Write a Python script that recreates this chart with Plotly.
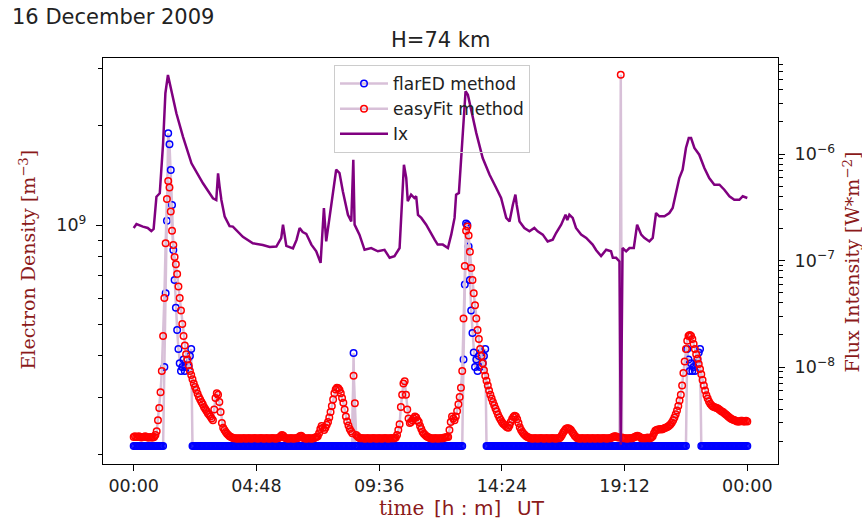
import plotly.graph_objects as go

# ---------------- data ----------------
# Electron density, sampled every 3 minutes from 00:00 to 24:00 (units of 1e8 m^-3)
SAMPLE_MIN = 3
flared_1e8 = [
    2.13, 2.13, 2.13, 2.13, 2.13, 2.13, 2.13, 2.13, 2.13, 2.13, 2.13, 2.13, 2.13, 2.13, 2.13, 2.13, 2.13, 2.13, 2.13, 2.13,
    2.13, 2.13, 2.13, 2.13, 3.7, 6.2, 10.3, 19.0, 17.6, 14.7, 11.5, 8.4, 6.8, 5.6, 4.8, 4.2, 3.8, 3.6, 3.7, 3.9,
    3.6, 3.7, 3.9, 3.7, 4.0, 4.2, 2.13, 2.13, 2.13, 2.13, 2.13, 2.13, 2.13, 2.13, 2.13, 2.13, 2.13, 2.13, 2.13, 2.13,
    2.13, 2.13, 2.13, 2.13, 2.13, 2.13, 2.13, 2.13, 2.13, 2.13, 2.13, 2.13, 2.13, 2.13, 2.13, 2.13, 2.13, 2.13, 2.13, 2.13,
    2.13, 2.13, 2.13, 2.13, 2.13, 2.13, 2.13, 2.13, 2.13, 2.13, 2.13, 2.13, 2.13, 2.13, 2.13, 2.13, 2.13, 2.13, 2.13, 2.13,
    2.13, 2.13, 2.13, 2.13, 2.13, 2.13, 2.13, 2.13, 2.13, 2.13, 2.13, 2.13, 2.13, 2.13, 2.13, 2.13, 2.13, 2.13, 2.13, 2.13,
    2.13, 2.13, 2.13, 2.13, 2.13, 2.13, 2.13, 2.13, 2.13, 2.13, 2.13, 2.13, 2.13, 2.13, 2.13, 2.13, 2.13, 2.13, 2.13, 2.13,
    2.13, 2.13, 2.13, 2.13, 2.13, 2.13, 2.13, 2.13, 2.13, 2.13, 2.13, 2.13, 2.13, 2.13, 2.13, 2.13, 2.13, 2.13, 2.13, 2.13,
    2.13, 2.13, 2.13, 2.13, 2.13, 2.13, 2.13, 2.13, 2.13, 2.13, 2.13, 2.13, 4.08, 2.13, 2.13, 2.13, 2.13, 2.13, 2.13, 2.13,
    2.13, 2.13, 2.13, 2.13, 2.13, 2.13, 2.13, 2.13, 2.13, 2.13, 2.13, 2.13, 2.13, 2.13, 2.13, 2.13, 2.13, 2.13, 2.13, 2.13,
    2.13, 2.13, 2.13, 2.13, 2.13, 2.13, 2.13, 2.13, 2.13, 2.13, 2.13, 2.13, 2.13, 2.13, 2.13, 2.13, 2.13, 2.13, 2.13, 2.13,
    2.13, 2.13, 2.13, 2.13, 2.13, 2.13, 2.13, 2.13, 2.13, 2.13, 2.13, 2.13, 2.13, 2.13, 2.13, 2.13, 2.13, 2.13, 2.13, 2.13,
    2.13, 2.13, 2.13, 2.13, 2.13, 2.13, 2.13, 2.13, 2.13, 2.13, 2.13, 2.13, 2.13, 2.13, 2.13, 2.13, 2.13, 2.13, 3.9, 6.6,
    10.1, 10.0, 8.6, 6.8, 5.5, 4.7, 4.1, 3.7, 3.9, 3.6, 4.0, 3.7, 4.1, 3.8, 4.0, 4.2, 2.13, 2.13, 2.13, 2.13,
    2.13, 2.13, 2.13, 2.13, 2.13, 2.13, 2.13, 2.13, 2.13, 2.13, 2.13, 2.13, 2.13, 2.13, 2.13, 2.13, 2.13, 2.13, 2.13, 2.13,
    2.13, 2.13, 2.13, 2.13, 2.13, 2.13, 2.13, 2.13, 2.13, 2.13, 2.13, 2.13, 2.13, 2.13, 2.13, 2.13, 2.13, 2.13, 2.13, 2.13,
    2.13, 2.13, 2.13, 2.13, 2.13, 2.13, 2.13, 2.13, 2.13, 2.13, 2.13, 2.13, 2.13, 2.13, 2.13, 2.13, 2.13, 2.13, 2.13, 2.13,
    2.13, 2.13, 2.13, 2.13, 2.13, 2.13, 2.13, 2.13, 2.13, 2.13, 2.13, 2.13, 2.13, 2.13, 2.13, 2.13, 2.13, 2.13, 2.13, 2.13,
    2.13, 2.13, 2.13, 2.13, 2.13, 2.13, 2.13, 2.13, 2.13, 2.13, 2.13, 2.13, 2.13, 2.13, 2.13, 2.13, 2.13, 2.13, 2.13, 2.13,
    2.13, 2.13, 2.13, 2.13, 2.13, 2.13, 2.13, 2.13, 2.13, 2.13, 2.13, 2.13, 2.13, 2.13, 2.13, 2.13, 2.13, 2.13, 2.13, 2.13,
    2.13, 2.13, 2.13, 2.13, 2.13, 2.13, 2.13, 2.13, 2.13, 2.13, 2.13, 2.13, 2.13, 2.13, 2.13, 2.13, 2.13, 2.13, 2.13, 2.13,
    2.13, 2.13, 2.13, 2.13, 2.13, 2.13, 2.13, 2.13, 2.13, 2.13, 2.13, 2.13, 2.13, 4.2, 3.9, 3.6, 3.8, 3.6, 3.7, 3.6,
    3.8, 3.9, 4.1, 4.2, 2.13, 2.13, 2.13, 2.13, 2.13, 2.13, 2.13, 2.13, 2.13, 2.13, 2.13, 2.13, 2.13, 2.13, 2.13, 2.13,
    2.13, 2.13, 2.13, 2.13, 2.13, 2.13, 2.13, 2.13, 2.13, 2.13, 2.13, 2.13, 2.13, 2.13, 2.13, 2.13, 2.13, 2.13, 2.13, 2.13,
    2.13,
]

easyfit_1e8 = [
    2.27, 2.28, 2.27, 2.27, 2.28, 2.27, 2.26, 2.27, 2.27, 2.28, 2.27, 2.26, 2.26, 2.27, 2.26, 2.26, 2.27, 2.30, 2.36, 2.55,
    2.78, 3.10, 3.60, 4.60, 6.00, 8.80, 12.0, 13.6, 13.0, 11.0, 9.60, 8.70, 8.00, 7.60, 7.10, 6.50, 6.00, 5.50, 5.00, 4.60,
    4.30, 4.05, 3.90, 3.75, 3.60, 3.50, 3.40, 3.30, 3.22, 3.15, 3.07, 3.00, 2.95, 2.90, 2.85, 2.80, 2.76, 2.72, 2.68, 2.65,
    2.62, 2.58, 2.55, 2.75, 2.98, 3.08, 3.05, 2.90, 2.70, 2.50, 2.42, 2.38, 2.35, 2.32, 2.30, 2.28, 2.27, 2.26, 2.25, 2.25,
    2.25, 2.24, 2.25, 2.25, 2.24, 2.25, 2.25, 2.25, 2.24, 2.25, 2.25, 2.25, 2.24, 2.25, 2.25, 2.25, 2.25, 2.24, 2.25, 2.25,
    2.25, 2.25, 2.24, 2.25, 2.25, 2.25, 2.24, 2.25, 2.25, 2.25, 2.25, 2.24, 2.25, 2.25, 2.26, 2.28, 2.30, 2.29, 2.26, 2.25,
    2.25, 2.24, 2.25, 2.25, 2.25, 2.24, 2.25, 2.25, 2.25, 2.26, 2.28, 2.29, 2.27, 2.25, 2.25, 2.24, 2.25, 2.25, 2.25, 2.24,
    2.25, 2.25, 2.26, 2.27, 2.28, 2.33, 2.40, 2.45, 2.42, 2.38, 2.42, 2.47, 2.52, 2.60, 2.70, 2.82, 2.95, 3.08, 3.16, 3.20,
    3.19, 3.15, 3.08, 2.98, 2.88, 2.75, 2.62, 2.53, 2.46, 2.40, 2.36, 2.33, 3.48, 2.87, 2.30, 2.28, 2.26, 2.25, 2.25, 2.25,
    2.25, 2.24, 2.25, 2.25, 2.25, 2.24, 2.25, 2.25, 2.25, 2.25, 2.24, 2.25, 2.25, 2.25, 2.24, 2.25, 2.25, 2.25, 2.25, 2.24,
    2.25, 2.25, 2.25, 2.25, 2.25, 2.26, 2.30, 2.38, 2.48, 2.80, 3.05, 3.30, 3.35, 3.05, 2.75, 2.58, 2.50, 2.52, 2.55, 2.58,
    2.62, 2.60, 2.55, 2.52, 2.45, 2.40, 2.35, 2.32, 2.30, 2.28, 2.27, 2.26, 2.25, 2.25, 2.24, 2.25, 2.25, 2.25, 2.24, 2.25,
    2.25, 2.25, 2.25, 2.26, 2.26, 2.27, 2.27, 2.38, 2.52, 2.62, 2.58, 2.55, 2.62, 2.72, 2.85, 3.00, 3.20, 3.60, 5.20, 7.50,
    9.60, 9.90, 9.30, 8.30, 7.40, 6.80, 6.20, 5.70, 5.20, 4.80, 4.50, 4.20, 4.00, 3.80, 3.62, 3.48, 3.36, 3.25, 3.14, 3.05,
    2.97, 2.90, 2.83, 2.77, 2.71, 2.65, 2.60, 2.56, 2.52, 2.49, 2.47, 2.45, 2.43, 2.42, 2.46, 2.52, 2.57, 2.61, 2.63, 2.62,
    2.57, 2.50, 2.43, 2.38, 2.35, 2.32, 2.30, 2.28, 2.27, 2.26, 2.25, 2.25, 2.24, 2.25, 2.25, 2.25, 2.24, 2.25, 2.25, 2.25,
    2.25, 2.24, 2.25, 2.25, 2.25, 2.24, 2.25, 2.25, 2.25, 2.25, 2.24, 2.25, 2.25, 2.25, 2.27, 2.30, 2.34, 2.37, 2.40, 2.41,
    2.41, 2.40, 2.38, 2.35, 2.32, 2.29, 2.27, 2.25, 2.25, 2.24, 2.25, 2.25, 2.25, 2.24, 2.25, 2.25, 2.25, 2.24, 2.25, 2.25,
    2.25, 2.24, 2.25, 2.25, 2.25, 2.24, 2.25, 2.25, 2.25, 2.25, 2.24, 2.25, 2.25, 2.25, 2.26, 2.27, 2.28, 2.28, 2.27, 2.26,
    2.26, 28.6, 2.26, 2.25, 2.25, 2.25, 2.24, 2.25, 2.25, 2.25, 2.25, 2.26, 2.27, 2.28, 2.29, 2.28, 2.27, 2.25, 2.25, 2.25,
    2.25, 2.25, 2.26, 2.25, 2.25, 2.26, 2.28, 2.33, 2.37, 2.38, 2.39, 2.39, 2.40, 2.39, 2.40, 2.41, 2.42, 2.43, 2.44, 2.46,
    2.48, 2.51, 2.55, 2.60, 2.66, 2.73, 2.82, 2.93, 3.05, 3.25, 3.55, 3.85, 4.20, 4.45, 4.60, 4.63, 4.60, 4.50, 4.35, 4.20,
    4.05, 3.92, 3.78, 3.65, 3.52, 3.38, 3.25, 3.14, 3.04, 2.97, 2.91, 2.86, 2.83, 2.81, 2.80, 2.79, 2.78, 2.77, 2.75, 2.73,
    2.71, 2.70, 2.68, 2.66, 2.64, 2.62, 2.60, 2.58, 2.57, 2.56, 2.55, 2.54, 2.53, 2.53, 2.53, 2.54, 2.54, 2.53, 2.53, 2.54,
    2.53,
]

# X-ray flux Ix (units of 1e-7 W m^-2) at the given hours UT
ix_hours = [
    0.00, 0.11, 0.36, 0.55, 0.69, 0.78, 0.89, 1.02, 1.15, 1.24, 1.34, 1.47, 1.67, 1.93, 2.26, 2.71, 3.10, 3.23, 3.30, 3.36,
    3.43, 3.56, 3.75, 3.88, 4.27, 4.66, 5.05, 5.32, 5.58, 5.77, 5.84, 5.97, 6.23, 6.37, 6.49, 6.61, 6.75, 6.95, 7.14, 7.31,
    7.44, 7.53, 7.73, 7.92, 8.05, 8.18, 8.38, 8.51, 8.59, 8.64, 8.83, 9.03, 9.29, 9.55, 9.81, 10.01, 10.20, 10.40, 10.57, 10.66,
    10.72, 10.85, 10.98, 11.05, 11.12, 11.25, 11.44, 11.64, 11.77, 11.89, 12.09, 12.29, 12.42, 12.55, 12.61, 12.72, 12.81, 12.87, 12.98, 13.07,
    13.20, 13.40, 13.65, 13.92, 14.18, 14.37, 14.57, 14.70, 14.83, 14.93, 14.98, 15.09, 15.28, 15.48, 15.67, 15.80, 16.00, 16.19, 16.39, 16.52,
    16.72, 16.89, 16.96, 17.04, 17.17, 17.30, 17.50, 17.70, 17.95, 18.09, 18.28, 18.48, 18.67, 18.74, 18.87, 19.00, 19.05, 19.12, 19.26, 19.39,
    19.56, 19.69, 19.85, 19.97, 20.17, 20.30, 20.43, 20.56, 20.76, 20.95, 21.08, 21.21, 21.34, 21.47, 21.60, 21.71, 21.80, 21.93, 22.12, 22.32,
    22.51, 22.71, 22.91, 23.10, 23.30, 23.49, 23.69, 23.82, 24.00,
]
ix_1e7 = [
    2.02, 2.20, 2.08, 2.02, 1.89, 1.98, 3.97, 4.28, 12.6, 37.2, 55.2, 39.9, 24.1, 14.5, 8.18, 5.31, 3.84, 3.70, 6.59, 4.93,
    3.70, 2.58, 2.10, 2.08, 1.67, 1.45, 1.40, 1.34, 1.35, 1.62, 2.17, 1.37, 1.30, 1.56, 2.02, 1.85, 1.78, 1.41, 1.22, 0.95,
    3.11, 1.51, 3.34, 7.12, 6.63, 4.47, 2.69, 2.33, 8.84, 2.17, 1.75, 1.26, 1.31, 1.22, 1.26, 1.06, 1.10, 1.31, 7.93, 5.95,
    3.60, 4.15, 3.86, 4.01, 2.68, 2.51, 2.17, 1.75, 1.57, 1.41, 1.41, 1.31, 1.75, 2.51, 4.15, 4.31, 9.17, 18.8, 38.8, 36.0,
    25.2, 15.7, 9.17, 6.39, 4.80, 3.86, 2.51, 2.33, 3.34, 4.15, 3.34, 2.33, 2.02, 1.88, 2.02, 1.88, 1.75, 1.51, 1.57, 1.81,
    2.17, 2.69, 2.40, 2.69, 2.51, 2.02, 1.75, 1.63, 1.41, 1.25, 1.10, 1.26, 1.22, 1.06, 1.06, 0.98, 0.0186, 1.31, 1.22, 1.31,
    1.31, 2.17, 1.75, 1.63, 1.51, 1.63, 2.79, 2.60, 2.60, 2.79, 3.11, 4.47, 5.95, 7.12, 11.4, 14.1, 14.1, 11.4, 9.85, 7.39,
    5.95, 5.15, 5.15, 4.62, 4.01, 3.72, 3.72, 4.01, 3.86,
]

x_tick_hours = [0, 4.8, 9.6, 14.4, 19.2, 24]
x_tick_labels = ["00:00", "04:48", "09:36", "14:24", "19:12", "00:00"]
left_major = [1e9]
left_major_labels = ["10<sup>9</sup>"]
left_minor = [2e8, 3e8, 4e8, 5e8, 6e8, 7e8, 8e8, 9e8, 2e9, 3e9]
right_major = [1e-8, 1e-7, 1e-6]
right_major_labels = ["10<sup>\u22128</sup>", "10<sup>\u22127</sup>", "10<sup>\u22126</sup>"]
right_minor = [2e-9, 3e-9, 4e-9, 5e-9, 6e-9, 7e-9, 8e-9, 9e-9,
               2e-8, 3e-8, 4e-8, 5e-8, 6e-8, 7e-8, 8e-8, 9e-8,
               2e-7, 3e-7, 4e-7, 5e-7, 6e-7, 7e-7, 8e-7, 9e-7,
               2e-6, 3e-6, 4e-6, 5e-6, 6e-6, 7e-6]

# ---------------- figure ----------------
t_ne = [i * SAMPLE_MIN / 60.0 for i in range(len(flared_1e8))]
t_ne2 = [i * SAMPLE_MIN / 60.0 for i in range(len(easyfit_1e8))]

DARKRED = "#8b1a1a"
TXT = "#222222"

fig = go.Figure()
fig.add_trace(go.Scatter(
    x=t_ne, y=[v * 1e8 for v in flared_1e8], mode="lines+markers", name="flarED method",
    line=dict(color="#d8c0d8", width=2.5),
    marker=dict(symbol="circle-open", size=6.5, color="#0000ff", line=dict(width=1.5)),
))
fig.add_trace(go.Scatter(
    x=t_ne2, y=[v * 1e8 for v in easyfit_1e8], mode="lines+markers", name="easyFit method",
    line=dict(color="#d8c0d8", width=2.5),
    marker=dict(symbol="circle-open", size=6.5, color="#ff0000", line=dict(width=1.5)),
))
fig.add_trace(go.Scatter(
    x=ix_hours, y=[v * 1e-7 for v in ix_1e7], mode="lines", name="Ix",
    line=dict(color="#800080", width=2.5), yaxis="y2",
))

axis_common = dict(showgrid=False, zeroline=False, showline=True, linecolor="black", linewidth=1.2,
                   ticks="outside", ticklen=6, tickwidth=1, tickcolor="black",
                   tickfont=dict(family="DejaVu Sans", size=17.5, color=TXT))

PL, PR, PT, PB = 103, 778, 58, 464   # plot-area pixel edges


def px(x):
    return (x - PL) / (PR - PL)


def py(y):
    return (PB - y) / (PB - PT)


fig.update_layout(
    width=862, height=521,
    margin=dict(l=PL, r=862 - PR, t=PT, b=521 - PB, autoexpand=False),
    plot_bgcolor="white", paper_bgcolor="white",
    showlegend=True,
    legend=dict(x=px(334), y=py(65), xanchor="left", yanchor="top", itemwidth=48,
                bgcolor="rgba(255,255,255,0)", bordercolor="#cccccc", borderwidth=1,
                font=dict(family="DejaVu Sans", size=17, color=TXT), tracegroupgap=0),
    xaxis=dict(range=[-1.2, 25.2], tickmode="array", tickvals=x_tick_hours, ticktext=x_tick_labels,
               mirror=True, **axis_common),
    yaxis=dict(type="log", range=[8.2736, 9.5076], tickmode="array", tickvals=left_major,
               ticktext=left_major_labels, ticklabelstandoff=6,
               minor=dict(tickmode="array", tickvals=left_minor, ticks="outside", ticklen=3.5,
                          tickcolor="black", tickwidth=1),
               **axis_common),
    yaxis2=dict(type="log", range=[-8.9108, -5.0986], overlaying="y", side="right",
                tickmode="array", tickvals=right_major, ticktext=right_major_labels, ticklabelstandoff=6,
                minor=dict(tickmode="array", tickvals=right_minor, ticks="outside", ticklen=3.5,
                           tickcolor="black", tickwidth=1),
                **axis_common),
    annotations=[
        dict(text="16 December 2009", xref="paper", yref="paper", x=px(10), y=py(17),
             xanchor="left", yanchor="middle", showarrow=False,
             font=dict(family="DejaVu Sans", size=21, color=TXT)),
        dict(text="H=74 km", xref="paper", yref="paper", x=px(440.5), y=py(40),
             xanchor="center", yanchor="middle", showarrow=False,
             font=dict(family="DejaVu Sans", size=21, color=TXT)),
        dict(text="time", xref="paper", yref="paper", x=px(401), y=py(508),
             xanchor="center", yanchor="middle", showarrow=False,
             font=dict(family="DejaVu Serif", size=20, color=DARKRED)),
        dict(text="[h : m]", xref="paper", yref="paper", x=px(467.5), y=py(508),
             xanchor="center", yanchor="middle", showarrow=False,
             font=dict(family="DejaVu Sans", size=20, color=DARKRED)),
        dict(text="UT", xref="paper", yref="paper", x=px(531), y=py(508),
             xanchor="center", yanchor="middle", showarrow=False,
             font=dict(family="DejaVu Sans", size=20, color=DARKRED)),
        dict(text="Electron Density [m<sup>\u22123</sup>]",
             xref="paper", yref="paper", x=px(27.5), y=py(260), textangle=-90,
             xanchor="center", yanchor="middle", showarrow=False,
             font=dict(family="DejaVu Serif", size=19, color=DARKRED)),
        dict(text="Flux Intensity [W*m<sup>\u22122</sup>]",
             xref="paper", yref="paper", x=px(851), y=py(262.5), textangle=-90,
             xanchor="center", yanchor="middle", showarrow=False,
             font=dict(family="DejaVu Serif", size=19, color=DARKRED)),
    ],
)

fig.write_html("out.html", config={"displayModeBar": False},
               post_script="document.body.style.margin='0';document.body.style.overflow='hidden';")
